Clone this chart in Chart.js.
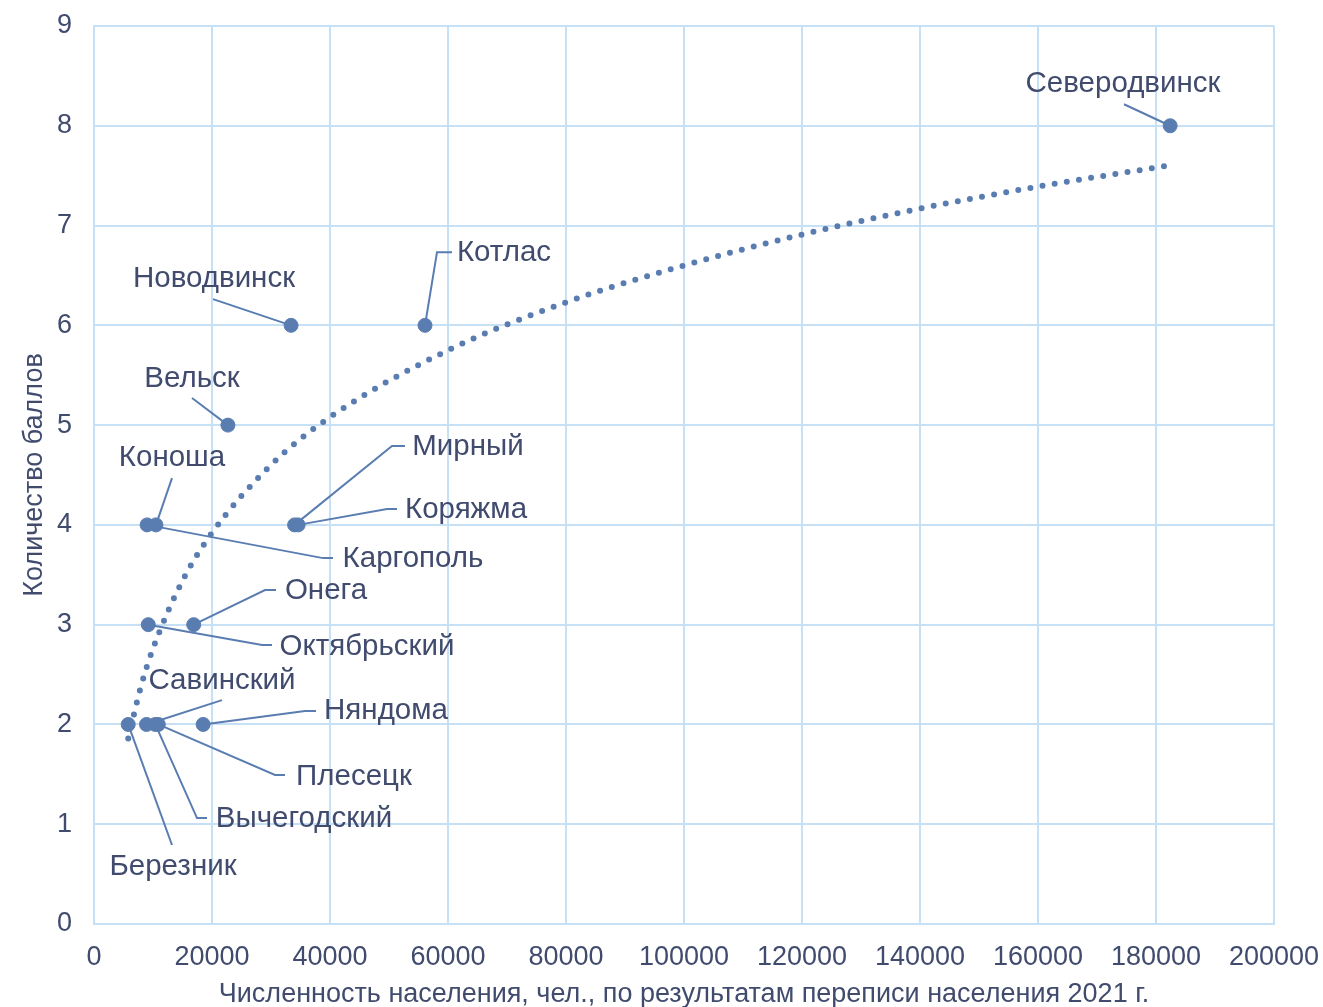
<!DOCTYPE html>
<html>
<head>
<meta charset="utf-8">
<script src="https://cdn.jsdelivr.net/npm/chart.js@4/dist/chart.umd.min.js"></script>
<style>
  body { margin: 0; background: #fff; }
</style>
</head>
<body>
<canvas id="chart" width="1323" height="1007"></canvas>
<script>
// towns, population (2021 census) and score
const towns = ['Северодвинск', 'Котлас', 'Новодвинск', 'Вельск', 'Коноша', 'Каргополь', 'Мирный', 'Коряжма',
    'Онега', 'Октябрьский', 'Савинский', 'Няндома', 'Плесецк', 'Вычегодский', 'Березник'];
const population = [182400, 56100, 33400, 22700, 10500, 9000, 34000, 34600,
    16900, 9200, 8900, 18500, 10900, 10400, 5800];
const scores = [8, 6, 6, 5, 4, 4, 4, 4, 3, 3, 2, 2, 2, 2, 2];

// dotted log trendline
const trendX = [5800, 8000, 10000, 15000, 20000, 30000, 40000, 60000, 80000, 100000, 120000, 140000, 160000, 182000];
const trendY = [1.86, 2.39, 2.76, 3.44, 3.92, 4.60, 5.08, 5.75, 6.23, 6.60, 6.91, 7.17, 7.39, 7.60];

const xTicks = [0, 20000, 40000, 60000, 80000, 100000, 120000, 140000, 160000, 180000, 200000];

// label centre and leader line bends, in axis units
const labelAt = [
    [174407, 8.417], [69492, 6.723], [20339, 6.463], [16610, 5.461], [13220, 4.669],
    [54068, 3.657], [63390, 4.780], [63051, 4.148], [39322, 3.337], [46271, 2.776],
    [21695, 2.435], [49491, 2.134], [44067, 1.473], [35593, 1.052], [13390, 0.571]
];
const leaderAt = [
    [[174576, 8.216]],
    [[60678, 6.733], [58136, 6.733]],
    [[20169, 6.263]],
    [[16610, 5.271]],
    [[13220, 4.469]],
    [[40508, 3.667], [38814, 3.667]],
    [[52712, 4.790], [50508, 4.790]],
    [[51356, 4.158], [49661, 4.158]],
    [[30847, 3.347], [28983, 3.347]],
    [[30169, 2.796], [28474, 2.796]],
    [[21695, 2.244]],
    [[37627, 2.134], [35763, 2.134]],
    [[32373, 1.493], [30678, 1.493]],
    [[19152, 1.062], [17458, 1.062]],
    [[13220, 0.792]]
];

const blue = '#5a7db1';
const textColor = '#404b6d';
const gridColor = '#c6e0f6';
const font = '"Liberation Sans", Arial, sans-serif';

const labelsPlugin = {
    id: 'townLabels',
    beforeDatasetsDraw(chart) {
        const ctx = chart.ctx, xs = chart.scales.x, ys = chart.scales.y;
        ctx.save();
        ctx.strokeStyle = blue;
        ctx.lineWidth = 2;
        towns.forEach((t, i) => {
            ctx.beginPath();
            const pts = leaderAt[i];
            ctx.moveTo(xs.getPixelForValue(pts[0][0]), ys.getPixelForValue(pts[0][1]));
            for (let k = 1; k < pts.length; k++) {
                ctx.lineTo(xs.getPixelForValue(pts[k][0]), ys.getPixelForValue(pts[k][1]));
            }
            ctx.lineTo(xs.getPixelForValue(population[i]), ys.getPixelForValue(scores[i]));
            ctx.stroke();
        });
        ctx.restore();
    },
    afterDatasetsDraw(chart) {
        const ctx = chart.ctx, xs = chart.scales.x, ys = chart.scales.y;
        ctx.save();
        ctx.fillStyle = textColor;
        ctx.font = '29.5px ' + font;
        ctx.textAlign = 'center';
        ctx.textBaseline = 'middle';
        towns.forEach((t, i) => {
            ctx.fillText(t, xs.getPixelForValue(labelAt[i][0]), ys.getPixelForValue(labelAt[i][1]));
        });
        ctx.restore();
    }
};

new Chart(document.getElementById('chart').getContext('2d'), {
    type: 'scatter',
    data: {
        datasets: [{
            data: population.map((p, i) => ({x: p, y: scores[i]})),
            backgroundColor: blue,
            borderColor: blue,
            pointRadius: 7,
            pointHoverRadius: 7,
            order: 1
        }, {
            type: 'line',
            data: trendX.map((x, i) => ({x: x, y: trendY[i]})),
            borderColor: blue,
            borderWidth: 6,
            borderDash: [0, 12.3],
            borderCapStyle: 'round',
            pointRadius: 0,
            cubicInterpolationMode: 'monotone',
            fill: false,
            order: 2
        }]
    },
    options: {
        responsive: false,
        animation: false,
        layout: { padding: { top: 26, right: 49, left: 0, bottom: 0 } },
        plugins: { legend: { display: false }, tooltip: { enabled: false } },
        scales: {
            x: {
                type: 'linear',
                min: 0, max: 200000,
                afterBuildTicks: s => { s.ticks = xTicks.map(v => ({value: v})); },
                afterFit: s => { s.height = 83; s.paddingLeft = 0; s.paddingRight = 0; },
                grid: { color: gridColor, lineWidth: 2, drawTicks: false },
                border: { color: gridColor, width: 2 },
                ticks: { color: textColor, font: { family: font, size: 27 }, padding: 17, callback: v => String(v), maxRotation: 0 },
                title: {
                    display: true,
                    text: 'Численность населения, чел., по результатам переписи населения 2021 г.',
                    color: textColor,
                    font: { family: font, size: 27, lineHeight: 1 },
                    padding: { top: 0, bottom: -1 }
                }
            },
            y: {
                min: 0, max: 9,
                afterFit: s => { s.width = 94; s.paddingTop = 0; s.paddingBottom = 0; },
                grid: { color: gridColor, lineWidth: 2, drawTicks: false },
                border: { color: gridColor, width: 2 },
                ticks: { color: textColor, font: { family: font, size: 27 }, padding: 22, stepSize: 1 },
                title: {
                    display: true,
                    text: 'Количество баллов',
                    color: textColor,
                    font: { family: font, size: 27 },
                    padding: { top: 18, bottom: 0 }
                }
            }
        }
    },
    plugins: [labelsPlugin]
});
</script>
</body>
</html>
